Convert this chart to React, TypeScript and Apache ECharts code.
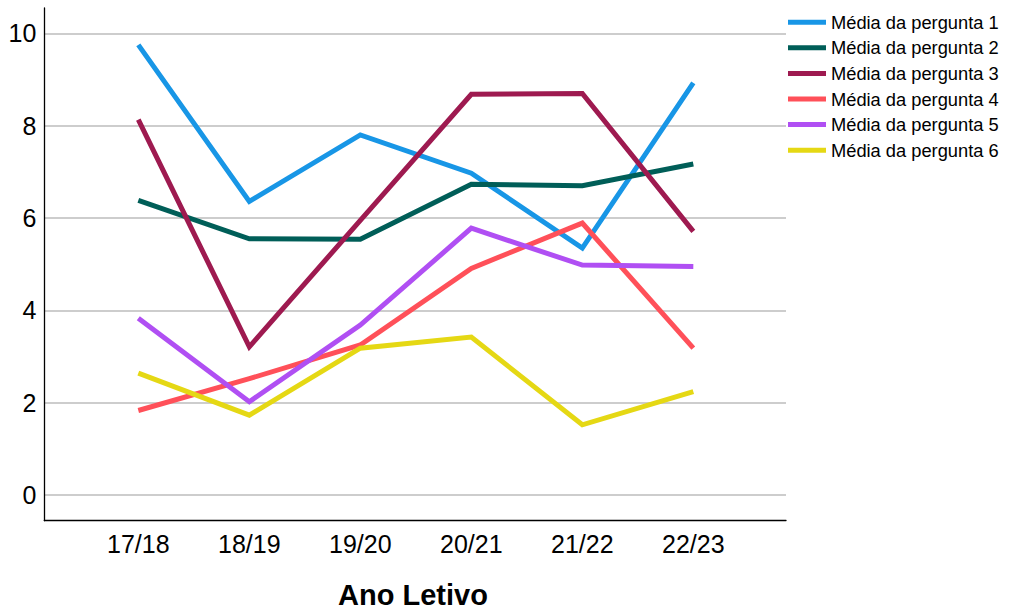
import React, { useEffect, useRef } from "react";
import * as echarts from "echarts";

const categories = ["17/18", "18/19", "19/20", "20/21", "21/22", "22/23"];
const seriesNames = [
  "Média da pergunta 1",
  "Média da pergunta 2",
  "Média da pergunta 3",
  "Média da pergunta 4",
  "Média da pergunta 5",
  "Média da pergunta 6",
];
const q1 = [9.75, 6.36, 7.8, 6.97, 5.35, 8.93];
const q2 = [6.38, 5.55, 5.54, 6.73, 6.7, 7.17];
const q3 = [8.13, 3.21, 5.95, 8.68, 8.7, 5.71];
const q4 = [1.83, 2.52, 3.25, 4.91, 5.89, 3.18];
const q5 = [3.83, 2.02, 3.68, 5.78, 4.98, 4.95];
const q6 = [2.64, 1.73, 3.18, 3.42, 1.52, 2.24];
const yTicks = [0, 2, 4, 6, 8, 10];
const colors = ["#1896e6", "#005e58", "#9e1a50", "#ff5059", "#b04ff3", "#e5d814"];

const FONT = "'Liberation Sans', Arial, Helvetica, sans-serif";

export default function App() {
  const ref = useRef<HTMLDivElement>(null);
  useEffect(() => {
    if (!ref.current) return;
    const chart = echarts.init(ref.current, undefined, { renderer: "svg" });
    const all = [q1, q2, q3, q4, q5, q6];
    const xVals = categories.map((_, i) => i + 1);
    chart.setOption({
      animation: false,
      backgroundColor: "#ffffff",
      textStyle: { fontFamily: FONT },
      grid: { left: 44.3, top: 8, right: 224, bottom: 90.3, containLabel: false },
      legend: {
        orient: "vertical",
        left: 783,
        top: 8.2,
        icon: "rect",
        itemWidth: 38,
        itemHeight: 5,
        itemGap: 7.6,
        textStyle: { fontSize: 18.3, color: "#000", fontFamily: FONT },
        data: seriesNames,
      },
      xAxis: {
        type: "value",
        min: 0.153,
        max: 6.835,
        axisLine: { show: true, onZero: false, lineStyle: { color: "#000", width: 1.3 } },
        axisTick: { show: false, customValues: xVals },
        splitLine: { show: false },
        axisLabel: {
          customValues: xVals,
          formatter: (v: number) => categories[Math.round(v) - 1] ?? "",
          fontSize: 25,
          color: "#000",
          fontFamily: FONT,
          margin: 11,
        },
      },
      yAxis: {
        type: "value",
        min: -0.557,
        max: 10.55,
        axisLine: { show: true, onZero: false, lineStyle: { color: "#000", width: 1.3 } },
        axisTick: { show: false, customValues: yTicks },
        splitLine: { show: true, lineStyle: { color: "#bdbdbd", width: 1.5 } },
        axisLabel: {
          customValues: yTicks,
          fontSize: 25,
          color: "#000",
          fontFamily: FONT,
          margin: 8,
        },
      },
      series: all.map((vals, si) => ({
        name: seriesNames[si],
        type: "line",
        data: vals.map((v, i) => [xVals[i], v]),
        symbol: "none",
        color: colors[si],
        lineStyle: { width: 5, color: colors[si], cap: "butt", join: "miter" },
      })),
      graphic: [
        {
          type: "text",
          x: 413,
          y: 595,
          style: {
            text: "Ano Letivo",
            fontSize: 29,
            fontWeight: "bold",
            fontFamily: FONT,
            fill: "#000",
            align: "center",
            verticalAlign: "middle",
          },
        },
      ],
    });
    return () => chart.dispose();
  }, []);
  return (
    <div
      ref={ref}
      style={{ position: "absolute", left: 0, top: 0, width: 1010, height: 611 }}
    />
  );
}
